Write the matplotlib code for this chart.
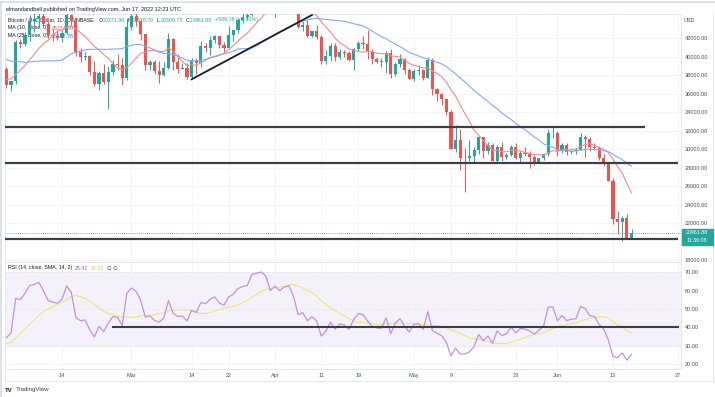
import numpy as np
import pandas as pd
import matplotlib.pyplot as plt
import matplotlib.dates as mdates
from matplotlib.lines import Line2D
from matplotlib.patches import Rectangle

W, H = 715, 397

# daily candles, BTC/USD Coinbase, Feb 2 - Jun 17 2022
dates = pd.date_range("2022-02-02", "2022-06-17", freq="D")
opens = [38720, 36900, 37330, 41570, 41400, 42400, 43840, 44050, 44390, 43530, 42400, 42200, 42080, 42560,
         44550, 43890, 40530, 40000, 40100, 38380, 37020, 38270, 37260, 38330, 39220, 39120, 37710,
         43190, 44420, 43920, 42460, 39150, 39400, 38420, 38060, 38740, 41950, 39440, 38730, 38810, 37790,
         39670, 39280, 41120, 40920, 41770, 42240, 41270, 41000, 42370, 42890, 43960, 44350, 44530, 46820,
         47130, 47450, 47070,
         45530, 46300, 45810, 46410, 46620, 45540, 43200, 43450, 42280, 42760, 42160, 39530, 40080, 41150,
         39940, 40550, 40380, 39680, 40800, 41500, 41370, 40480, 39710, 39470, 39450, 40430, 38110, 39240,
         39740, 38600,
         37640, 38470, 38530, 37720, 39700, 36550, 36020, 35470, 34040, 30080, 31010, 29100, 29050, 29300,
         29880, 31300, 29870, 30440, 28710, 30300, 29190, 29430, 30290, 29100, 29650, 29540, 29200, 28620,
         29020, 29450, 31730,
         31800, 29800, 30460, 29700, 29860, 29910, 31370, 31130, 30210, 30110, 29080, 28420, 26590, 22490,
         22140, 22590, 20380]
highs = [38850, 37400, 41770, 41950, 42650, 44500, 45490, 44800, 45820, 43900, 43000, 42760, 42860, 44760,
         44580, 44180, 40950, 40470, 40150, 39500, 38430, 39250, 39000, 39700, 40300, 39850, 44200,
         44950, 45400, 44100, 42500, 39650, 39680, 39500, 39400, 42600, 42030, 40250, 39350, 39300, 39920,
         39880, 41700, 41480, 42300, 42400, 42300, 41550, 43350, 42900, 44220, 45100, 44800, 46950, 48200,
         48100, 47700, 47600,
         46700, 47200, 47450, 46880, 47200, 45540, 43900, 43970, 42800, 43420, 42400, 40690, 41530, 41500,
         40880, 40700, 40600, 40960, 41750, 42200, 42950, 40800, 39980, 39900, 40600, 40800, 39450, 40350,
         39900, 38790,
         38670, 39150, 38630, 39980, 39840, 36650, 36120, 35500, 34240, 32650, 32200, 30100, 31050, 30300,
         31400, 31300, 30750, 30650, 30500, 30750, 29620, 30450, 30650, 29840, 30200, 29840, 29380, 29100,
         29550, 32220, 32400,
         31980, 30650, 30680, 29950, 30180, 31750, 31560, 31330, 30700, 30380, 29440, 28550, 26900, 23340,
         22800, 22990, 21370]
lows = [36600, 36250, 37050, 40950, 41150, 41700, 42680, 43170, 43200, 42000, 41760, 41870, 41600, 42450,
        43330, 40090, 39450, 39650, 38000, 36800, 36360, 37050, 34320, 38010, 38580, 37000, 37450,
        42850, 43350, 41850, 38600, 38600, 38100, 37150, 37900, 38650, 38550, 38250, 38660, 37600, 37600,
        38120, 38850, 40550, 40150, 41520, 40930, 40500, 40900, 41750, 42560, 43600, 44080, 44420, 46650,
        46950, 46550, 45200,
        44250, 45650, 45550, 45140, 45350, 43150, 42750, 42120, 42130, 41900, 39220, 39250, 39570, 39570,
        39770, 40000, 39560, 38540, 40580, 40850, 39750, 39200, 39300, 38850, 38200, 37700, 37880, 38880,
        38180, 37600,
        37400, 38050, 37500, 37680, 35850, 35250, 34800, 33730, 30000, 29750, 27800, 25350, 28700, 28600,
        29500, 29100, 29500, 28700, 28680, 28750, 28950, 29270, 28900, 28600, 29300, 28000, 28250, 28480,
        28820, 29300, 31200,
        29300, 29600, 29350, 29480, 29500, 29890, 29220, 29850, 29960, 28870, 28200, 26560, 21930, 20820,
        20100, 20250, 20300]
closes = [36900, 37330, 41570, 41400, 42400, 43840, 44050, 44390, 43530, 42400, 42200, 42080, 42560, 44550,
          43890, 40530, 40000, 40100, 38380, 37020, 38270, 37260, 38330, 39220, 39120, 37710, 43190,
          44420, 43920, 42460, 39150, 39400, 38420, 38060, 38740, 41950, 39440, 38730, 38810, 37790, 39670,
          39280, 41120, 40920, 41770, 42240, 41270, 41000, 42370, 42890, 43960, 44350, 44530, 46820, 47130,
          47450, 47070, 45530,
          46300, 45810, 46410, 46620, 45540, 43200, 43450, 42280, 42760, 42160, 39530, 40080, 41150, 39940,
          40550, 40380, 39680, 40800, 41500, 41370, 40480, 39710, 39470, 39450, 40430, 38110, 39240, 39740,
          38600, 37640,
          38470, 38530, 37720, 39700, 36550, 36020, 35470, 34040, 30080, 31010, 29100, 29050, 29300, 29880,
          31300, 29870, 30440, 28710, 30300, 29190, 29430, 30290, 29100, 29650, 29540, 29200, 28620, 29020,
          29450, 31730, 31800,
          29800, 30460, 29700, 29860, 29910, 31370, 31130, 30210, 30110, 29080, 28420, 26590, 22490, 22140,
          22590, 20380, 20961.88]
# closes before the visible range (Dec 1 2021 - Feb 1 2022), needed by the indicators
warmup_closes = [57200, 56500, 53600, 49200, 49400, 50600, 50600, 50500, 47600, 47100, 49400, 50100,
                 46700, 48400, 48900, 47700, 46200, 46900, 46700, 46900, 49000, 48600, 50800, 50400,
                 50800, 50700, 50700, 47500, 46500, 47100, 46300,
                 47700, 47300, 46400, 45800, 43400, 43100, 41500, 41700, 41900, 41800, 42700, 43900,
                 42600, 43100, 43100, 43100, 42200, 42400, 41700, 40700, 36500, 35100, 36300, 36700,
                 36900, 36800, 37200, 37700, 38200, 37900, 38500, 38720]

# drawn lines
support_levels = [32440, 28550, 20270]
support_ends = ["2022-06-20", "2022-06-27", "2022-06-27"]
trend_dates = ["2022-03-14", "2022-04-09"]
trend_prices = [37570, 44520]
rsi_line_dates = ["2022-02-25", "2022-06-27"]
rsi_line_level = 40.4

price_ticks = [42000, 40000, 38000, 36000, 34000, 32000, 30000, 28000, 26000, 24000, 22000, 18000]
rsi_ticks = [70, 60, 50, 40, 30, 20]
date_ticks = ["2022-02-14", "2022-03-01", "2022-03-14", "2022-03-22", "2022-04-01", "2022-04-11",
              "2022-04-19", "2022-05-01", "2022-05-09", "2022-05-23", "2022-06-01", "2022-06-13",
              "2022-06-27"]
date_labels = ["14", "Mar", "14", "22", "Apr", "11", "19", "May", "9", "23", "Jun", "13", "27"]

last_price = 20961.88

# indicators
n = len(closes)
allc = pd.Series(warmup_closes + closes, dtype=float)
ma10 = allc.rolling(10).mean().iloc[-n:].values
ma25 = allc.rolling(25).mean().iloc[-n:].values
delta = allc.diff()
up_avg = delta.clip(lower=0).ewm(alpha=1 / 14, adjust=False).mean()
dn_avg = (-delta.clip(upper=0)).ewm(alpha=1 / 14, adjust=False).mean()
rsi_all = 100 - 100 / (1 + up_avg / dn_avg)
rsi_sma = rsi_all.rolling(14).mean().iloc[-n:].values
rsi = rsi_all.iloc[-n:].values

GREEN = "#26a69a"
RED = "#ef5350"
TXT = "#131722"
GRID = "#f0f3fa"
BORDER = "#e0e3eb"
plt.rcParams["font.family"] = ["Liberation Sans", "DejaVu Sans"]


def box(x0, y0, x1, y1):
    return [x0 / W, 1 - y1 / H, (x1 - x0) / W, (y1 - y0) / H]


def dn(s):
    return mdates.date2num(pd.Timestamp(s))


fig = plt.figure(figsize=(W / 100, H / 100), dpi=100)
axp = fig.add_axes(box(5, 14, 681, 262))
axr = fig.add_axes(box(5, 262, 681, 369), sharex=axp)

x = mdates.date2num(dates)
d0 = dn("2022-02-14")
axp.set_xlim(d0 - 12.31, d0 + 133.69)
axp.set_ylim(17816, 44627)
axr.set_ylim(17.4, 75.5)

o = np.array(opens, float)
h = np.array(highs, float)
l = np.array(lows, float)
c = np.array(closes, float)
cols = np.where(c >= o, GREEN, RED)

axp.vlines(x, l, h, colors=cols, lw=0.7, zorder=3)
axp.bar(x, np.maximum(np.abs(c - o), 45), bottom=np.minimum(o, c), width=0.68,
        color=cols, lw=0, zorder=4)
axp.plot(x, ma10, color="#f48a8f", lw=0.8, zorder=5)
axp.plot(x, ma25, color="#8aa6f3", lw=0.8, zorder=5)

for lvl, end in zip(support_levels, support_ends):
    axp.plot([d0 - 12.31, dn(end)], [lvl, lvl], color="#3d3f46", lw=1.6, zorder=6,
             solid_capstyle="butt")
axp.plot([dn(d) for d in trend_dates], trend_prices, color="#1a1c2b", lw=1.3, zorder=6)
axp.axhline(last_price, color=GREEN, lw=0.6, ls=(0, (1, 1.5)), zorder=2)

# RSI panel
axr.axhspan(30, 70, color="#7e57c2", alpha=0.08, lw=0, zorder=0)
for lvl in [70, 50, 30]:
    axr.axhline(lvl, color="#a79bbb", lw=0.6, ls=(0, (3, 2.5)), zorder=1)
axr.plot(x, rsi_sma, color="#e8e77a", lw=0.8, zorder=3)
axr.plot(x, rsi, color="#c191e6", lw=0.9, zorder=4)
axr.plot([dn(d) for d in rsi_line_dates], [rsi_line_level] * 2, color="#3d3f46", lw=1.5,
         zorder=5)

for ax in (axp, axr):
    ax.set_xticks([dn(d) for d in date_ticks])
    ax.grid(True, color=GRID, lw=0.6, zorder=0)
    ax.tick_params(length=0, labelsize=4.0, colors="#4a4e5a", pad=2.5)
    ax.yaxis.tick_right()
    for s in ax.spines.values():
        s.set_color(BORDER)
        s.set_linewidth(0.6)

axp.set_yticks(price_ticks)
axp.set_yticklabels([f"{v:.2f}" for v in price_ticks])
axp.tick_params(axis="x", labelbottom=False)
axr.set_yticks(rsi_ticks)
axr.set_yticklabels([f"{v:.2f}" for v in rsi_ticks])
axr.set_xticklabels(date_labels)
axr.tick_params(axis="x", pad=3)

fig.text(6 / W, 1 - 9 / H, "elmandandbell published on TradingView.com, Jun 17, 2022 12:23 UTC",
         color=TXT, fontsize=4.0, va="center")


def chain(ax, x0, y0, parts, fs=3.8, z=1):
    # legend pieces placed one after another, each right of the previous one
    prev = ax.annotate(parts[0][0], xy=(x0 / W, 1 - y0 / H), xycoords="figure fraction",
                       color=parts[0][1], fontsize=fs, va="center", ha="left", zorder=z)
    for s, col, g in parts[1:]:
        prev = ax.annotate(s, xy=(1, 0.5), xycoords=prev, xytext=(g, 0),
                           textcoords="offset points", color=col, fontsize=fs,
                           va="center", ha="left", zorder=z, annotation_clip=False)


chain(axp, 8, 20, [("Bitcoin / U.S. Dollar, 1D, COINBASE", TXT),
                   ("O", TXT, 3.5), ("20371.96", GREEN, 0.3),
                   ("H", TXT, 2.0), ("21370.70", GREEN, 0.3),
                   ("L", TXT, 2.0), ("20309.73", GREEN, 0.3),
                   ("C", TXT, 2.0), ("20961.88", GREEN, 0.3),
                   ("+589.88 (+2.90%)", GREEN, 2.0)])
chain(axp, 8, 28, [("MA (10, close, 0)", TXT), ("25234.89", "#ef5350", 2.5)])
chain(axp, 8, 36, [("MA (25, close, 0)", TXT), ("28187.76", "#2962ff", 2.5)])
chain(axr, 8, 268, [("RSI (14, close, SMA, 14, 2)", TXT), ("25.42", "#9c5fd6", 2.0),
                    ("37.01", "#cfc93a", 2.0), ("\u2205 \u2205", TXT, 2.0)], z=6)

fig.text(684 / W, 1 - 20 / H, "USD", color="#4a4e5a", fontsize=4.0, va="center")

# last price tag
fig.patches.append(Rectangle((682 / W, 1 - 245 / H), 31 / W, 16 / H, transform=fig.transFigure,
                             color=GREEN, zorder=10))
fig.text(697 / W, 1 - 233 / H, "20961.88", color="white", fontsize=3.8, ha="center",
         va="center", zorder=11)
fig.text(697 / W, 1 - 240.5 / H, "11:36:08", color="white", fontsize=3.8, ha="center",
         va="center", zorder=11)

# frame lines
fig.add_artist(Line2D([0, 1], [1 - 2 / H, 1 - 2 / H], transform=fig.transFigure,
                      color="#d6dde8", lw=1.2))
fig.add_artist(Line2D([1 / W, 1 / W], [0, 1 - 2 / H], transform=fig.transFigure,
                      color="#d6dde8", lw=1.2))
fig.add_artist(Line2D([5 / W, 713 / W], [1 - 381 / H, 1 - 381 / H], transform=fig.transFigure,
                      color=BORDER, lw=0.6))
fig.add_artist(Line2D([713 / W, 713 / W], [1 - 381 / H, 1 - 14 / H], transform=fig.transFigure,
                      color=BORDER, lw=0.6))
fig.add_artist(Line2D([5 / W, 5 / W], [1 - 381 / H, 1 - 369 / H], transform=fig.transFigure,
                      color=BORDER, lw=0.6))

# TradingView logo
fig.text(5 / W, 1 - 390 / H, "TV", color=TXT, fontsize=4.4, fontweight="bold", va="center")
fig.text(16 / W, 1 - 390 / H, "TradingView", color="#3a3e4a", fontsize=4.4, va="center")

fig.savefig("out.png", dpi=100)
